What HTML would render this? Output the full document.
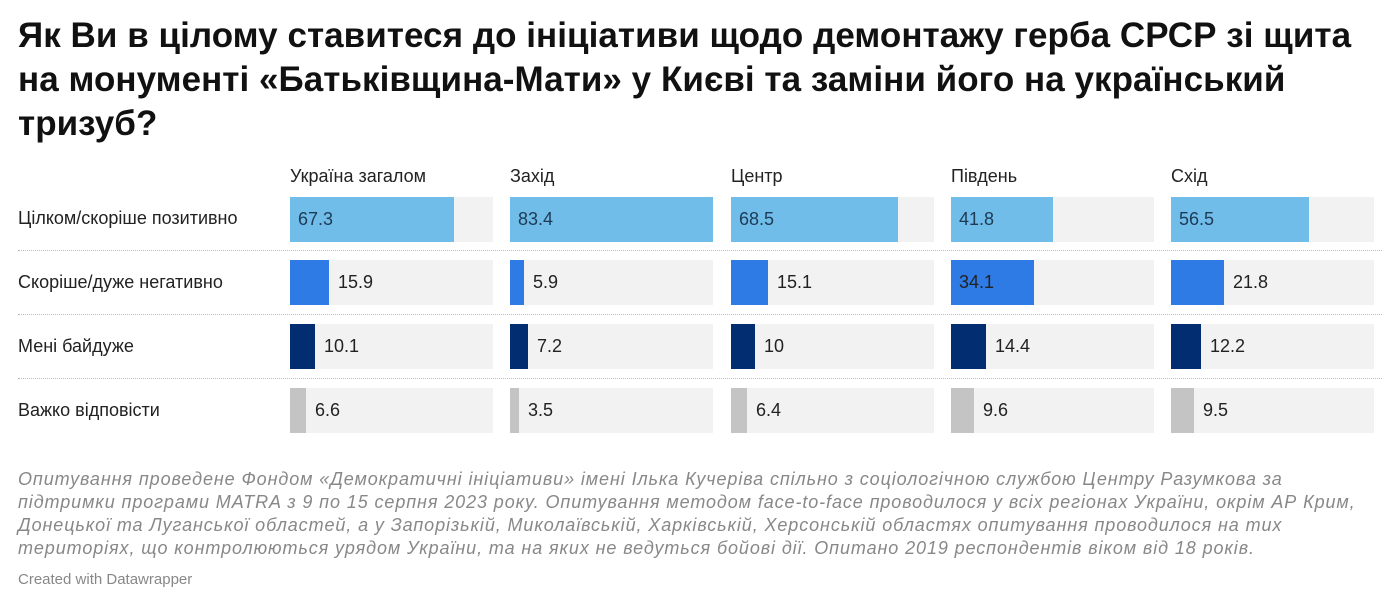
<!DOCTYPE html>
<html><head><meta charset="utf-8"><style>
body{margin:0;width:1400px;height:609px;background:#fff;font-family:"Liberation Sans",sans-serif;position:relative;overflow:hidden;color:#222}
h1{position:absolute;left:18px;top:14px;margin:0;font-size:35px;line-height:44px;font-weight:bold;letter-spacing:0.05px;white-space:nowrap;color:#111}
.a{position:absolute}
.hd{font-size:18px;color:#222;top:166px}
.rl{font-size:18px;color:#222;left:18px}
.bg{background:#f2f2f2;height:45px;width:203px}
.v{font-size:18px;line-height:45px;height:45px}
.sep{left:18px;width:1364px;border-top:1px dotted #bbb;height:0}
.ft{left:18px;top:468px;font-size:18px;line-height:23px;font-style:italic;color:#888;white-space:nowrap;letter-spacing:0.9px}
.cr{left:18px;top:571px;font-size:15px;color:#888}
</style></head><body>
<h1>Як Ви в цілому ставитеся до ініціативи щодо демонтажу герба СРСР зі щита<br>на монументі «Батьківщина-Мати» у Києві та заміни його на український<br>тризуб?</h1>
<div class="a hd" style="left:290px">Україна загалом</div>
<div class="a hd" style="left:510px">Захід</div>
<div class="a hd" style="left:731px">Центр</div>
<div class="a hd" style="left:951px">Південь</div>
<div class="a hd" style="left:1171px">Схід</div>
<div class="a rl" style="top:208px">Цілком/скоріше позитивно</div>
<div class="a rl" style="top:272px">Скоріше/дуже негативно</div>
<div class="a rl" style="top:336px">Мені байдуже</div>
<div class="a rl" style="top:400px">Важко відповісти</div>
<div class="a sep" style="top:250px"></div>
<div class="a sep" style="top:314px"></div>
<div class="a sep" style="top:378px"></div>
<div id="c"></div>
<div class="a ft">Опитування проведене Фондом «Демократичні ініціативи» імені Ілька Кучеріва спільно з соціологічною службою Центру Разумкова за<br>підтримки програми MATRA з 9 по 15 серпня 2023 року. Опитування методом face-to-face проводилося у всіх регіонах України, окрім АР Крим,<br>Донецької та Луганської областей, а у Запорізькій, Миколаївській, Харківській, Херсонській областях опитування проводилося на тих<br>територіях, що контролюються урядом України, та на яких не ведуться бойові дії. Опитано 2019 респондентів віком від 18 років.</div>
<div class="a cr">Created with Datawrapper</div>
<script>
var xs=[290,510,731,951,1171],ys=[197,260,324,388],cols=["#71bdea","#2f7be5","#022d70","#c4c4c4"];
var d=[[67.3,83.4,68.5,41.8,56.5],[15.9,5.9,15.1,34.1,21.8],[10.1,7.2,10,14.4,12.2],[6.6,3.5,6.4,9.6,9.5]];
var h="",k=203/83.4;
for(var r=0;r<4;r++)for(var c=0;c<5;c++){var v=d[r][c],w=Math.round(v*k);
h+='<div class="a bg" style="left:'+xs[c]+'px;top:'+ys[r]+'px"></div>';
h+='<div class="a" style="left:'+xs[c]+'px;top:'+ys[r]+'px;width:'+w+'px;height:45px;background:'+cols[r]+'"></div>';
var lx=r==0||v==34.1?xs[c]+8:xs[c]+w+9;
h+='<div class="a v" style="left:'+lx+'px;top:'+ys[r]+'px;color:'+(r==0?'#1e3a55':'#222')+'">'+v+'</div>';}
document.getElementById("c").innerHTML=h;
</script>
</body></html>
